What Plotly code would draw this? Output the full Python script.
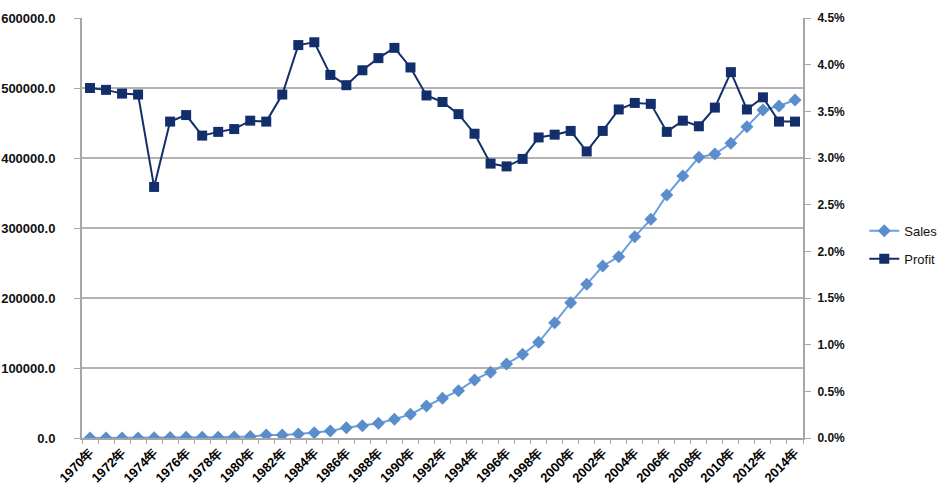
import plotly.graph_objects as go

years = list(range(1970, 2015))
sales = [0, 0, 0, 0, 500, 700, 900, 1000, 1200, 1500, 2000,
         4300, 4300, 5700, 7600, 10000, 14800, 17600, 21000, 26700, 33800,
         45700, 56700, 67600, 82900, 94000, 105700, 119500, 136700, 164700, 193300,
         219500, 245700, 259000, 287600, 312400, 347100, 374300, 401000, 405700, 421000,
         444800, 468600, 474300, 482900]
profit = [0.0375, 0.0373, 0.0369, 0.0368, 0.0269, 0.0339, 0.0346, 0.0324, 0.0328, 0.0331, 0.0340,
          0.0339, 0.0368, 0.0421, 0.0424, 0.0389, 0.0378, 0.0394, 0.0407, 0.0418, 0.0397,
          0.0367, 0.0360, 0.0347, 0.0326, 0.0294, 0.0291, 0.0299, 0.0322, 0.0325, 0.0329,
          0.0307, 0.0329, 0.0352, 0.0359, 0.0358, 0.0328, 0.0340, 0.0334, 0.0354, 0.0392,
          0.0352, 0.0365, 0.0339, 0.0339]
label_years = list(range(1970, 2015, 2))
label_text = [f"{y}年" for y in label_years]

fnt = dict(family="Liberation Sans", size=12, color="#111111")

fig = go.Figure()
fig.add_trace(go.Scatter(
    x=years, y=sales, name="Sales", mode="lines+markers", yaxis="y",
    legendgroup="a",
    line=dict(color="#6A9FDB", width=2),
    marker=dict(symbol="diamond", size=10, color="#5A8DCB", line=dict(color="#5A8DCB", width=0)),
))
fig.add_trace(go.Scatter(
    x=years, y=profit, name="Profit", mode="lines+markers", yaxis="y2",
    legendgroup="b",
    line=dict(color="#132F6B", width=2),
    marker=dict(symbol="square", size=10, color="#132F6B"),
))

fig.update_layout(
    width=940, height=491,
    margin=dict(l=82, r=137, t=18, b=53, autoexpand=False),
    plot_bgcolor="white", paper_bgcolor="white",
    font=fnt,
    showlegend=True,
    legend=dict(x=1.085, y=0.46, xanchor="left", yanchor="middle",
                font=dict(family="Liberation Sans", size=13, color="#111111"),
                tracegroupgap=8, bgcolor="rgba(0,0,0,0)"),
    xaxis=dict(
        range=[1969.5, 2014.5], tickmode="array", tickvals=label_years, ticktext=label_text,
        tickangle=-45, ticks="", showgrid=False, zeroline=False, automargin=False,
        showline=True, linecolor="#a6a6a6", linewidth=2,
        tickfont=dict(family="Liberation Sans", size=13, color="#000000", weight="bold"),
        minor=dict(ticks="outside", tick0=1969.5, dtick=1, ticklen=4, tickcolor="#a6a6a6", showgrid=False),
    ),
    yaxis=dict(
        range=[0, 600000], dtick=100000, tickformat=".1f", automargin=False,
        showgrid=True, gridcolor="#b3b3b3", gridwidth=1.5, zeroline=False,
        showline=True, linecolor="#a6a6a6", linewidth=2,
        ticks="outside", ticklen=6, tickcolor="#a6a6a6", ticklabelstandoff=16,
        tickfont=dict(family="Liberation Sans", size=13, color="#111111", weight="bold"),
    ),
    yaxis2=dict(
        range=[0, 0.045], dtick=0.005, tickformat=".1%", overlaying="y", side="right",
        showgrid=False, zeroline=False, automargin=False,
        showline=True, linecolor="#a6a6a6", linewidth=2,
        ticks="outside", ticklen=6, tickcolor="#a6a6a6", ticklabelstandoff=4,
        tickfont=dict(family="Liberation Sans", size=12, color="#111111", weight="bold"),
    ),
)

fig.write_html("out.html")
